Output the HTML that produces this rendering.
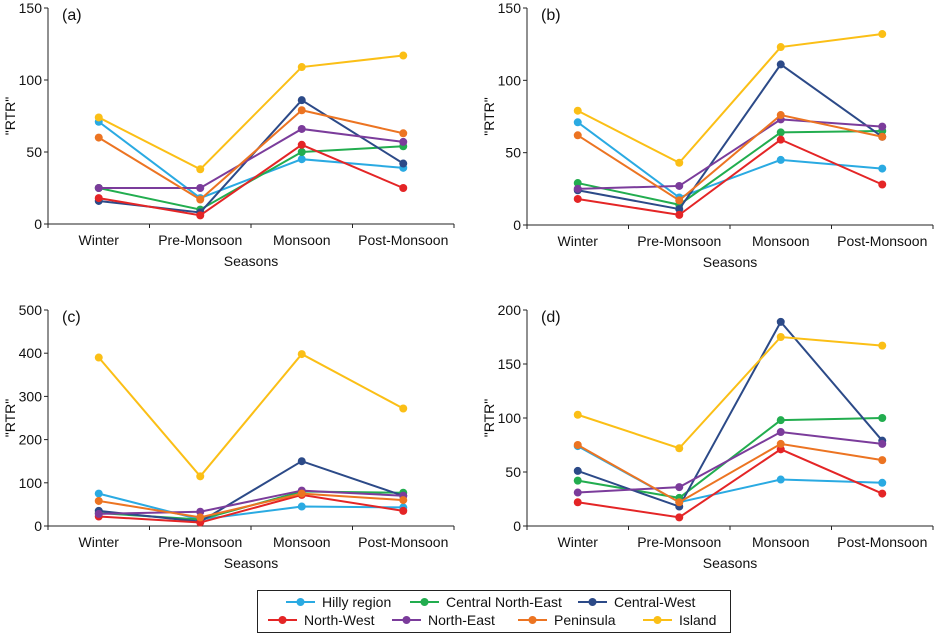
<!DOCTYPE html>
<html><head><meta charset="utf-8"><style>
body{margin:0;background:#fff;font-family:"Liberation Sans",Arial,sans-serif}
svg{display:block}
text{font-family:"Liberation Sans",Arial,sans-serif;fill:#111}
</style></head><body>
<svg id="chart" width="934" height="634"></svg>
<script>
const categories=["Winter","Pre-Monsoon","Monsoon","Post-Monsoon"];
const seriesNames=["Hilly region","Central North-East","Central-West","North-West","North-East","Peninsula","Island"];
const seriesColors=["#2aaae2","#22ad4f","#2c4a88","#e42526","#7b3c9b","#ec7422","#fbbf16"];
const panelLabels=["(a)","(b)","(c)","(d)"];
const panelMax=[150,150,500,200];
const ticksA=[0,50,100,150];
const ticksC=[0,100,200,300,400,500];
const ticksD=[0,50,100,150,200];
const dataA=[[71,18,45,39],[25,10,50,54],[16,8,86,42],[18,6,55,25],[25,25,66,57],[60,17,79,63],[74,38,109,117]];
const dataB=[[71,19,45,39],[29,14,64,65],[24,11,111,61],[18,7,59,28],[25,27,73,68],[62,17,76,61],[79,43,123,132]];
const dataC=[[75,15,45,43],[30,15,80,77],[35,10,150,70],[22,8,72,35],[28,33,82,70],[58,20,75,60],[390,115,398,272]];
const dataD=[[74,22,43,40],[42,26,98,100],[51,18,189,79],[22,8,71,30],[31,36,87,76],[75,22,76,61],[103,72,175,167]];
const panelData=[dataA,dataB,dataC,dataD];
const panelTicks=[ticksA,ticksA,ticksC,ticksD];
const NS="http://www.w3.org/2000/svg";
const svg=document.getElementById('chart');
function mk(tag,attrs,parent,txt){const e=document.createElementNS(NS,tag);for(const k in attrs)e.setAttribute(k,attrs[k]);if(txt!==undefined)e.textContent=txt;(parent||svg).appendChild(e);return e;}
const layout=[{x0:48,x1:454,top:8,bot:224},{x0:527,x1:933,top:8,bot:225},{x0:48,x1:454,top:310,bot:526},{x0:527,x1:933,top:310,bot:526}];
const pnames=["panel-a","panel-b","panel-c","panel-d"];
layout.forEach((L,p)=>{
  const g=mk('g',{});
  
  
  const max=panelMax[p];
  const y=v=>L.bot-(v/max)*(L.bot-L.top);
  const bw=(L.x1-L.x0)/categories.length;
  const x=i=>L.x0+bw*(i+0.5);
  const ya=mk('line',{x1:L.x0,y1:L.top,x2:L.x0,y2:L.bot,stroke:'#222','stroke-width':1},g);
  
  const xa=mk('line',{x1:L.x0,y1:L.bot,x2:L.x1,y2:L.bot,stroke:'#222','stroke-width':1},g);
  
  panelTicks[p].forEach(t=>{
    mk('line',{x1:L.x0-4,y1:y(t),x2:L.x0,y2:y(t),stroke:'#222'},g);
    const tl=mk('text',{x:L.x0-6,y:y(t)+5,'text-anchor':'end','font-size':14},g,t);
    
  });
  for(let i=0;i<=categories.length;i++)mk('line',{x1:L.x0+bw*i,y1:L.bot,x2:L.x0+bw*i,y2:L.bot+4,stroke:'#222'},g);
  categories.forEach((c,i)=>{
    const tl=mk('text',{x:x(i),y:L.bot+21,'text-anchor':'middle','font-size':14},g,c);
    
  });
  const xt=mk('text',{x:(L.x0+L.x1)/2,y:L.bot+42,'text-anchor':'middle','font-size':14},g,'Seasons');
  
  const cy=(L.top+L.bot)/2, cx=L.x0-33;
  const yt=mk('text',{x:cx,y:cy,'text-anchor':'middle','font-size':14,transform:`rotate(-90 ${cx} ${cy})`},g,'"RTR"');
  
  const pl=mk('text',{x:L.x0+14,y:L.top+12,'font-size':16},g,panelLabels[p]);
  
  panelData[p].forEach((vals,s)=>{
    const pts=vals.map((v,i)=>x(i)+','+y(v)).join(' ');
    const ln=mk('polyline',{points:pts,fill:'none',stroke:seriesColors[s],'stroke-width':2},g);
    
    vals.forEach((v,i)=>{
      const c=mk('circle',{cx:x(i),cy:y(v),r:4,fill:seriesColors[s]},g);
      
    });
  });
});
// legend
const lg=mk('g',{});


mk('rect',{x:257.5,y:590.5,width:473,height:42,fill:'#fff',stroke:'#222'},lg);
const legX=[286,410,578,268,392,518,643];
const legY=[602,602,602,620,620,620,620];
seriesNames.forEach((n,s)=>{
  const ly=legY[s], lx=legX[s];
  const e=mk('g',{},lg);
  
  
  mk('line',{x1:lx,y1:ly,x2:lx+29,y2:ly,stroke:seriesColors[s],'stroke-width':2},e);
  mk('circle',{cx:lx+14.5,cy:ly,r:4,fill:seriesColors[s]},e);
  mk('text',{x:lx+36,y:ly+5,'font-size':14},e,n);
});
</script>
</body></html>
